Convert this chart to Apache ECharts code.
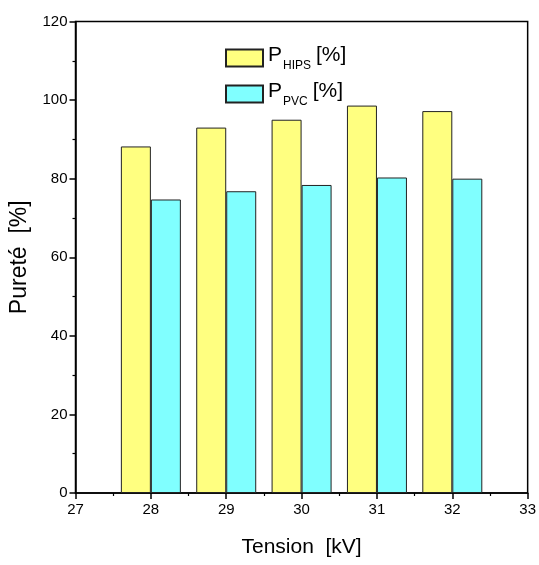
<!DOCTYPE html>
<html>
<head>
<meta charset="utf-8">
<script src="https://cdn.jsdelivr.net/npm/echarts@6/dist/echarts.min.js"></script>
<style>
  html, body { margin: 0; padding: 0; background: #fff; }
  #chart { width: 539px; height: 565px; }
</style>
</head>
<body>
<div id="chart"></div>
<script>
// tension (kV) and purity values
var tension = [28, 29, 30, 31, 32];
var hips = [88.2, 93.0, 95.0, 98.6, 97.2];
var pvc = [74.7, 76.8, 78.4, 80.3, 80.0];

var FONT = "'Liberation Sans', Arial, sans-serif";

function pairs(vals) {
    var out = [];
    for (var i = 0; i < tension.length; i++) out.push([tension[i], vals[i]]);
    return out;
}

var chart = echarts.init(document.getElementById('chart'));

var legendRich = {
    p: { fontSize: 21, fontFamily: FONT, color: '#000', lineHeight: 30, verticalAlign: 'bottom', padding: [0, 0, 7, 0] },
    s: { fontSize: 12, fontFamily: FONT, color: '#000', lineHeight: 30, verticalAlign: 'bottom', padding: [0, 5, 1, 1] }
};

var option = {
    animation: false,
    backgroundColor: '#fff',
    textStyle: { fontFamily: FONT },
    grid: {
        left: 75.5,
        right: 9,
        top: 21.5,
        bottom: 72,
        show: true,
        borderColor: '#000',
        borderWidth: 1.5
    },
    legend: {
        orient: 'vertical',
        left: 220,
        top: 40,
        icon: 'rect',
        itemWidth: 37,
        itemHeight: 17,
        itemGap: 8,
        data: ['HIPS', 'PVC'],
        formatter: function (name) {
            return '{p|P}{s|' + name + '}{p|[%]}';
        },
        textStyle: { rich: legendRich }
    },
    xAxis: {
        type: 'value',
        min: 27,
        max: 33,
        interval: 1,
        name: 'Tension  [kV]',
        nameLocation: 'middle',
        nameGap: 44,
        nameTextStyle: { fontSize: 21, color: '#000', fontFamily: FONT },
        axisLine: { show: true, lineStyle: { color: '#000', width: 1.5 } },
        axisTick: { show: true, length: 6, lineStyle: { color: '#000', width: 1.5 } },
        minorTick: { show: true, splitNumber: 2, length: 3, lineStyle: { color: '#000', width: 1.2 } },
        axisLabel: { fontSize: 15, color: '#000', fontFamily: FONT, margin: 9 },
        splitLine: { show: false }
    },
    yAxis: {
        type: 'value',
        min: 0,
        max: 120,
        interval: 20,
        name: 'Pureté  [%]',
        nameLocation: 'middle',
        nameGap: 33,
        nameTextStyle: { fontSize: 23, color: '#000', fontFamily: FONT },
        axisLine: { show: true, lineStyle: { color: '#000', width: 1.5 } },
        axisTick: { show: true, length: 6, lineStyle: { color: '#000', width: 1.5 } },
        minorTick: { show: true, splitNumber: 2, length: 3, lineStyle: { color: '#000', width: 1.2 } },
        axisLabel: { fontSize: 15, color: '#000', fontFamily: FONT, margin: 8 },
        splitLine: { show: false }
    },
    series: [
        {
            name: 'HIPS',
            type: 'bar',
            data: pairs(hips),
            barWidth: 30,
            barGap: '0%',
            itemStyle: { color: '#FFFF80', borderColor: '#222', borderWidth: 1 }
        },
        {
            name: 'PVC',
            type: 'bar',
            data: pairs(pvc),
            barWidth: 30,
            barGap: '0%',
            itemStyle: { color: '#80FFFF', borderColor: '#222', borderWidth: 1 }
        }
    ]
};

chart.setOption(option);
</script>
</body>
</html>
